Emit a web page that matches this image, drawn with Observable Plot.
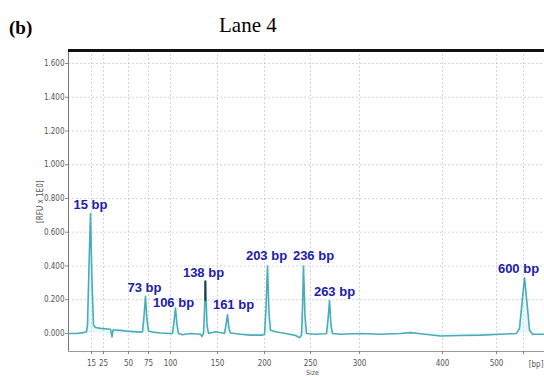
<!DOCTYPE html>
<html>
<head>
<meta charset="utf-8">
<script src="https://cdn.jsdelivr.net/npm/d3@7"></script>
<script src="https://cdn.jsdelivr.net/npm/@observablehq/plot@0.6"></script>
<style>
  html, body { margin: 0; padding: 0; background: #fff; }
  #wrap { position: relative; width: 544px; height: 376px; overflow: hidden; }
  #panel { position: absolute; left: 9px; top: 17px; font: bold 19px "Liberation Serif", "Times New Roman", serif; color: #000; }
  #title { position: absolute; left: 219px; top: 13px; font: 21px "Liberation Serif", "Times New Roman", serif; color: #000; }
  #chart { position: absolute; left: 0; top: 45px; }
</style>
</head>
<body>
<div id="wrap">
  <div id="panel">(b)</div>
  <div id="title">Lane 4</div>
  <div id="chart"></div>
</div>
<script>
// x is migration position (arbitrary units); tick labels give fragment size in bp
const tickPos = [23, 35, 60, 80, 102, 149, 196, 242, 291, 374, 428, 455];
const tickLabels = ["15", "25", "50", "75", "100", "150", "200", "250", "300", "400", "500", ""];
const yTicks = [0, 0.2, 0.4, 0.6, 0.8, 1.0, 1.2, 1.4, 1.6];

// electropherogram trace (migration position, RFU)
const traceM = [0, 8, 15, 18, 19, 20.5, 22, 23.5, 25, 27, 32, 42, 43.5, 44.5, 45.5, 52, 62, 72,
  74, 75.5, 77, 78.5, 80, 84, 92, 102,
  104, 105.5, 107, 108.5, 110, 114, 122, 132, 133.5, 135, 135.8, 137, 138.5, 140, 147, 154,
  156, 157.5, 159, 160.5, 162, 172, 182, 194,
  196, 197.5, 199, 200.5, 202, 207, 217, 227, 231,
  233, 234, 235, 236.5, 238, 247, 256,
  258, 259.5, 261, 262.5, 264, 272, 292, 312, 332, 342, 352, 372, 392, 412, 432, 448,
  451, 453, 456, 459, 461, 464, 476];
const traceV = [0.0, 0.0, 0.005, 0.01, 0.05, 0.4, 0.71, 0.3, 0.05, 0.035, 0.03, 0.025, -0.02, 0.02, 0.02, 0.018, 0.012, 0.008,
  0.01, 0.1, 0.22, 0.08, 0.015, 0.008, 0.003, 0.0,
  0.0, 0.07, 0.15, 0.05, 0.0, -0.008, 0.0, -0.005, -0.018, 0.0, 0.1, 0.31, 0.05, 0.0, 0.01, 0.003,
  0.0, 0.05, 0.11, 0.03, 0.003, -0.005, -0.01, -0.01,
  -0.005, 0.15, 0.40, 0.12, 0.02, 0.01, 0.0, -0.012, -0.025,
  -0.01, 0.15, 0.40, 0.1, 0.0, -0.005, -0.002,
  0.0, 0.08, 0.195, 0.05, 0.0, -0.005, 0.0, -0.005, 0.0, 0.005, -0.002, -0.015, -0.012, -0.01, -0.005, 0.0,
  0.03, 0.15, 0.33, 0.15, 0.02, -0.005, -0.005];

// peak annotations
const peakNames = ["15 bp", "73 bp", "106 bp", "138 bp", "161 bp", "203 bp", "236 bp", "263 bp", "600 bp"];
const labelM = [22, 76, 105, 135, 165, 198, 245, 266, 450];
const labelV = [0.76, 0.27, 0.18, 0.36, 0.17, 0.46, 0.46, 0.245, 0.385];

// marker bar on 138 bp peak
const markerM = [136.8];
const markerLow = [0.19];
const markerHigh = [0.31];

const xDomain = [0, 476];
const yDomain = [-0.107, 1.677];

const trace = traceM.map((m, i) => ({m, v: traceV[i]}));
const labels = peakNames.map((name, i) => ({name, m: labelM[i], v: labelV[i]}));
const markers = markerM.map((m, i) => ({m, lo: markerLow[i], hi: markerHigh[i]}));

const chart = Plot.plot({
  width: 544,
  height: 331,
  marginLeft: 68,
  marginRight: 0,
  marginTop: 5,
  marginBottom: 25,
  x: {domain: xDomain},
  y: {domain: yDomain},
  style: {fontFamily: "'DejaVu Sans Condensed', 'DejaVu Sans', sans-serif", fontSize: "8px", color: "#555", background: "transparent"},
  marks: [
    Plot.gridY(yTicks.slice(1), {stroke: "#bbb", strokeOpacity: 0.6, strokeDasharray: "2,2"}),
    Plot.gridX(tickPos, {stroke: "#bbb", strokeOpacity: 0.6, strokeDasharray: "2,2"}),
    Plot.ruleX([xDomain[0]], {stroke: "#777", strokeWidth: 1}),
    Plot.ruleY([yDomain[0]], {stroke: "#999", strokeWidth: 1}),
    Plot.ruleY([yDomain[1]], {stroke: "#111", strokeWidth: 3}),
    Plot.axisY({ticks: yTicks, tickFormat: d3.format(".3f"), tickSize: 3, tickPadding: 1, label: null, stroke: "#888", fill: "#555"}),
    Plot.axisX({ticks: tickPos, tickFormat: (d, i) => tickLabels[tickPos.indexOf(d)], tickSize: 3, tickPadding: 6, label: null, stroke: "#888", fill: "#555"}),
    Plot.text(["[bp]"], {frameAnchor: "bottom-right", dx: -1, dy: 15, fill: "#555", fontSize: 8, textAnchor: "end"}),
    Plot.text(["Size"], {frameAnchor: "bottom", dx: 6, dy: 23, fill: "#555", fontSize: 7}),
    Plot.text(["[RFU x 1E0]"], {frameAnchor: "left", dx: -28, dy: 22, rotate: -90, fill: "#555", fontSize: 8}),
    Plot.areaY(trace, {x: "m", y1: 0, y2: "v", fill: "#bfe8ee", fillOpacity: 0.35}),
    Plot.line(trace, {x: "m", y: "v", stroke: "#48adba", strokeWidth: 1.6}),
    Plot.ruleX(markers, {x: "m", y1: "lo", y2: "hi", stroke: "#2a3a4a", strokeWidth: 2}),
    Plot.text(labels, {x: "m", y: "v", text: "name", fill: "#2020aa", fontSize: 13, fontWeight: "bold", fontFamily: "'Liberation Sans', Arial, sans-serif"})
  ]
});
document.getElementById("chart").appendChild(chart);
</script>
</body>
</html>
